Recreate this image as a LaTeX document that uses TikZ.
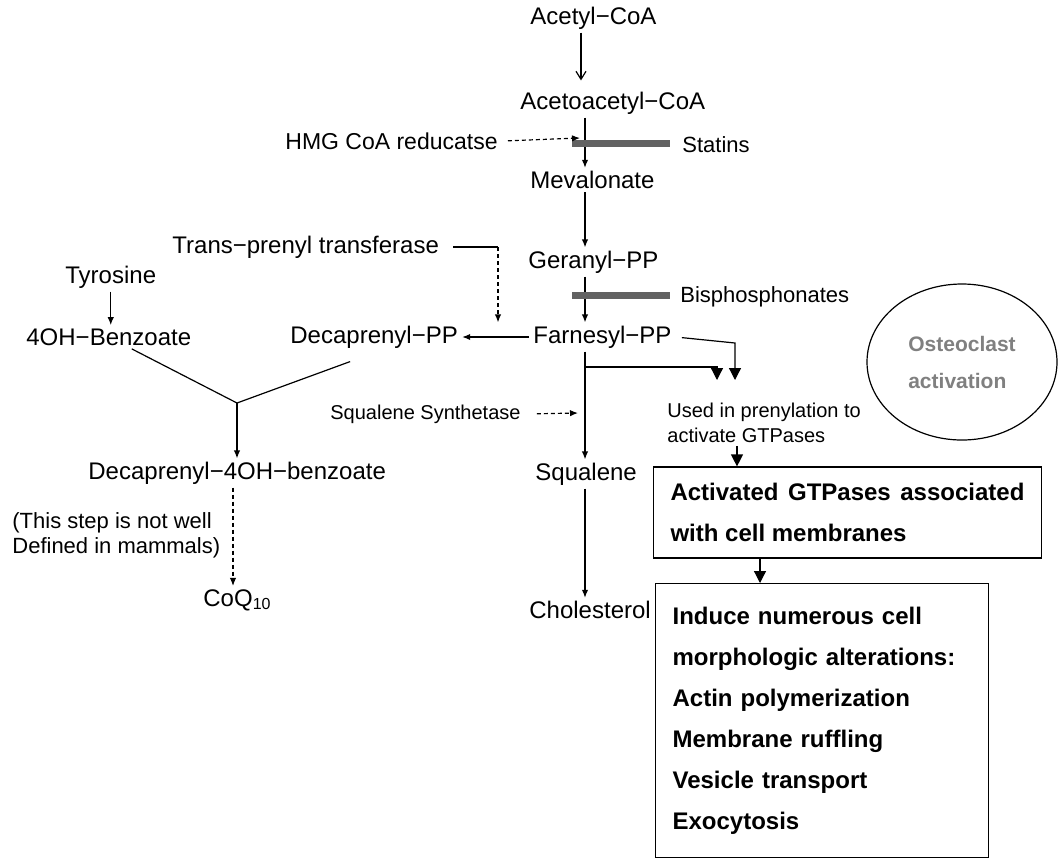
\documentclass[tikz,border=0pt]{standalone}
\usepackage{fontspec}
\setmainfont{Liberation Sans}
\usepackage{tikz}
\usetikzlibrary{arrows.meta}
\usetikzlibrary{positioning}
\usetikzlibrary{shapes.geometric}
\definecolor{bargray}{RGB}{98,98,98}
\definecolor{osteogray}{RGB}{128,128,128}
\tikzset{
  metab/.style = {anchor=west, inner xsep=2pt, inner ysep=1.5pt,
    font=\fontsize{12}{14}\selectfont},% metabolite
  enzyme/.style = {metab, font=\fontsize{11}{12.5}\selectfont},% enzyme, drug, note
  sidetext/.style = {metab, align=left, font=\fontsize{10}{12.5}\selectfont},
  flow/.style = {-{Latex[length=4pt,width=3.2pt]}, line width=0.6pt},
  hint/.style = {flow, dash pattern=on 2pt off 1.5pt},% dashed arrow
  bigflow/.style = {-{Triangle[length=6pt,width=6pt]}, line width=0.6pt},
  blocker/.style = {draw=bargray, line width=3.5pt},% inhibitor bar
  effect/.style = {draw, line width=0.6pt, inner xsep=8.5pt,
    font=\bfseries\fontsize{12}{20.5}\selectfont}
}

\begin{document}
\begin{tikzpicture}[x=0.5pt,y=-0.5pt]
\useasboundingbox (0,0) rectangle (1060,858);

% main pathway
\node [metab] (acetyl) at (526,18) {Acetyl−CoA};
\node [metab] (acetoacetyl) at (516,103) {Acetoacetyl−CoA};
\node [metab] (mevalonate) at (526,180) {Mevalonate};
\node [metab] (geranyl) at (524,262) {Geranyl−PP};
\node [metab] (farnesyl) at (529,337) {Farnesyl−PP};
\node [metab] (squalene) at (531,474) {Squalene};
\node [metab] (cholesterol) at (525,610) {Cholesterol};

\node [enzyme, font=\fontsize{11.5}{13}\selectfont] (hmg) at (281,141) {HMG CoA reducatse};
\node [enzyme] (statins) at (678,145) {Statins};
\node [enzyme, font=\fontsize{12}{14}\selectfont] (transprenyl) at (168,247) {Trans−prenyl transferase};
\node [enzyme] (bisphos) at (676,297) {Bisphosphonates};
\node [sidetext] (sqsyn) at (326,414) {Squalene Synthetase};

% CoQ10 branch
\node [metab] (tyrosine) at (61,277) {Tyrosine};
\node [metab] (benz) at (22,337) {4OH−Benzoate};
\node [metab] (decaPP) at (286,337) {Decaprenyl−PP};
\node [metab] (deca4) at (84,473) {Decaprenyl−4OH−benzoate};
\node [enzyme, align=left] (stepnote) at (8,535.5) {(This step is not well\\Defined in mammals)};
\node [metab] (coq) at (199,600) {CoQ\textsubscript{10}};

% prenylation branch
\node [sidetext] (used) at (663,422.5) {Used in prenylation to\\activate GTPases};
\node [draw, ellipse, line width=0.6pt, minimum width=95pt, minimum height=78pt,
  text=osteogray, align=left, font=\bfseries\fontsize{10.5}{18.5}\selectfont]
  (osteo) at (962,362) {Osteoclast\\activation};
\node [effect, text width=177pt, align=justify, minimum height=45.5pt]
  (gtp) at (847.5,512.5) {Activated GTPases associated with cell membranes};
\node [effect, anchor=north west, text width=149.5pt, align=left, minimum height=137pt]
  (morph) at (655,583) {Induce numerous cell\\morphologic alterations:\\Actin polymerization\\Membrane ruffling\\Vesicle transport\\Exocytosis};

\coordinate (ax0) at (581,0);
\coordinate (ax) at (585,0);
\draw[line width=0.6pt,-{Straight Barb[length=4pt,width=5pt]},shorten >=4pt]
  (acetyl.south -| ax0) -- (acetoacetyl.north -| ax0);
\draw[flow] (acetoacetyl.south -| ax) -- (mevalonate.north -| ax);
\draw[flow] (mevalonate.south -| ax) -- (geranyl.north -| ax);
\draw[flow] (geranyl.south -| ax) -- (farnesyl.north -| ax);
\draw[flow] (farnesyl.south -| ax) -- (squalene.north -| ax);
\draw[flow] (squalene.south -| ax) -- (cholesterol.north -| ax);

\draw[blocker] (572,143) -- (670,143);
\draw[blocker] (572,295) -- (670,295);

\coordinate (hmgtip) at (580,138);
\draw[hint, shorten <=3pt] (hmg.east) -- (hmgtip);
\coordinate (sqtip) at (578,413);
\draw[hint, shorten <=6pt] (sqsyn.east) -- (sqtip);

\draw[flow] (farnesyl.west) -- (decaPP.east);
\coordinate (tpbend) at (498,247);
\draw[line width=0.6pt, shorten <=5pt] (transprenyl.east) -- (tpbend);
\draw[hint] (tpbend) -- (tpbend |- decaPP.north);

\draw[flow] (tyrosine.south) -- (tyrosine.south |- benz.north);
\coordinate (join) at (237,403);
\draw[line width=0.6pt] ([xshift=11.5pt]benz.south) -- (join)
  -- ([xshift=-12pt,yshift=-5pt]decaPP.south);
\draw[flow] (join) -- (join |- deca4.north);
\coordinate (coqax) at (233,0);
\draw[hint] (deca4.south -| coqax) -- (coq.north -| coqax);

\coordinate (fbend) at (735,343);
\coordinate (ftip) at (735,380);
\draw[bigflow, shorten <=3pt] (farnesyl.east) -- (fbend) -- (ftip);
\coordinate (fork) at (585,367);
\coordinate (forktip) at (717,380);
\draw[bigflow] (fork) -| (forktip);
\coordinate (gtpax) at (737,0);
\draw[bigflow] (used.south -| gtpax) -- (gtp.north -| gtpax);
\coordinate (morphax) at (760,0);
\draw[bigflow] (gtp.south -| morphax) -- (morph.north -| morphax);
\end{tikzpicture}
\end{document}
